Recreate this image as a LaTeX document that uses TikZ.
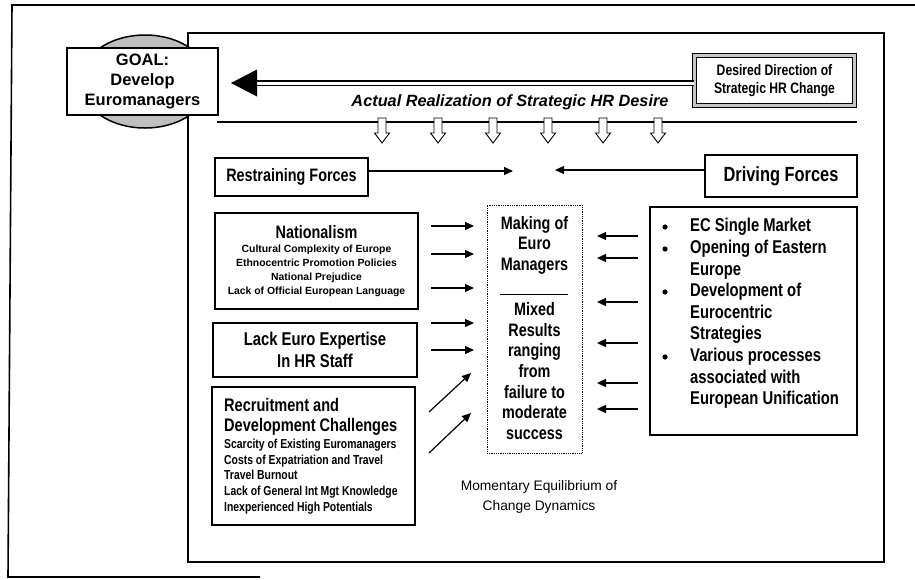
\documentclass[tikz,border=0pt]{standalone}
\usepackage{fontspec}
\setmainfont{Liberation Sans}
\newfontfamily\cond[FakeStretch=0.8]{Liberation Sans}
\usetikzlibrary{arrows.meta,shapes.geometric}
\newcommand\fsz[2]{\fontsize{#1}{#2}\selectfont}
\begin{document}
\begin{tikzpicture}[x=1pt,y=-1pt,
  box/.style={draw,line width=1.4pt,fill=white,inner sep=0pt},
  arr/.style={-{Triangle[length=9pt,width=8pt]},line width=1.2pt},
  hollow/.style={draw,line width=0.9pt,fill=white},
  frame/.style={draw,line width=1.6pt},
  ttl/.style={font=\cond\bfseries\fsz{18}{21},align=center,inner sep=0pt},
  small/.style={font=\bfseries\fsz{10.4}{14},align=center,inner sep=0pt},
]
\useasboundingbox (0,0) rectangle (915,579);
% frames
\draw[frame] (260,577) -- (8,577) -- (12,5) -- (915,5);
\draw[frame] (188,33) rectangle (884,562);
% goal
\node[ellipse,draw,line width=1.5pt,fill=gray!50,minimum width=130pt,minimum height=93pt,inner sep=0pt] (globe) at (145,81.5) {};
\node[box,line width=2pt,minimum width=151pt,minimum height=67pt,font=\bfseries\fsz{16.5}{20},align=center] (goal) at (142.5,81.5) {GOAL:\\Develop\\Euromanagers};
% desired
\node[draw,line width=1.3pt,double=gray!45,double distance=2.2pt,fill=white,minimum width=160pt,minimum height=50pt,inner sep=0pt,font=\cond\bfseries\fsz{15.2}{17.5},align=center] (desired) at (774.5,80.5) {Desired Direction of\\Strategic HR Change};
\coordinate (tip) at (231,83);
\coordinate (hb) at (256,83);
\draw[line width=1.5pt,double=white,double distance=3pt] (hb) -- (hb -| desired.west);
\fill (tip) -- ++(26,-13.5) -- ++(0,27) -- cycle;
% actual
\node[font=\bfseries\itshape\fsz{16.3}{18},inner sep=0pt] (actual) at (510,102) {Actual Realization of Strategic HR Desire};
\draw[line width=1.6pt] (217,122) -- (857,122);
\foreach \x in {382,438,493,548,603,658}
  \draw[hollow] ({\x-4},118) -- ({\x+4},118) -- ({\x+4},133) -- ({\x+7.5},133) -- (\x,143) -- ({\x-7.5},133) -- ({\x-4},133) -- cycle;
% force headers
\node[box,minimum width=153pt,minimum height=38pt,font=\cond\bfseries\fsz{18}{20}] (restr) at (291.5,177) {Restraining Forces};
\node[box,minimum width=152pt,minimum height=42pt,font=\cond\bfseries\fsz{20.5}{22}] (driving) at (781,176) {Driving Forces};
\coordinate (m1) at (513,171);
\coordinate (m2) at (555,170);
\draw[arr] (restr.east |- m1) -- (m1);
\draw[arr] (driving.west |- m2) -- (m2);
% nationalism
\node[box,minimum width=203pt,minimum height=96pt] (nat) at (316.5,261) {};
\node[ttl] (natt) at (316.5,232) {Nationalism};
\node[small] (natl) at (316.5,271) {Cultural Complexity of Europe\\Ethnocentric Promotion Policies\\National Prejudice\\Lack of Official European Language};
% lack
\node[box,minimum width=204pt,minimum height=54pt,font=\cond\bfseries\fsz{18.5}{22},align=center] (lack) at (315,350) {Lack Euro Expertise\\In HR Staff};
% recruitment
\node[box,minimum width=203pt,minimum height=138pt] (rec) at (313.5,456) {};
\node[ttl,align=left,anchor=west,font=\cond\bfseries\fsz{18.2}{20}] (rect) at (224,417) {Recruitment and\\Development Challenges};
\node[small,align=left,anchor=west,font=\cond\bfseries\fsz{13}{15.7}] (recl) at (224,476.5) {Scarcity of Existing Euromanagers\\Costs of Expatriation and Travel\\Travel Burnout\\Lack of General Int Mgt Knowledge\\Inexperienced High Potentials};
% center
\node[draw,line width=0.8pt,densely dotted,minimum width=95pt,minimum height=248pt,inner sep=0pt] (center) at (534.5,329) {};
\node[ttl,font=\cond\bfseries\fsz{18}{20.5}] (making) at (534.5,245) {Making of\\Euro\\Managers};
\draw[line width=1pt] (500,294) -- (568,294);
\node[ttl,font=\cond\bfseries\fsz{18}{20.7}] (mixed) at (534.5,371) {Mixed\\Results\\ranging\\from\\failure to\\moderate\\success};
% driving list
\node[box,minimum width=207pt,minimum height=228pt] (dlist) at (753.5,321) {};
\node[align=left,anchor=west,inner sep=0pt,font=\cond\bfseries\fsz{18.5}{21.6}] (dtext) at (690,313.5) {EC Single Market\\Opening of Eastern\\Europe\\Development of\\Eurocentric\\Strategies\\Various processes\\associated with\\European Unification};
\foreach \y in {227,249,292,357} \fill (665,\y) circle (2.6pt);
% momentary
\node[align=center,inner sep=0pt,font=\fsz{13.8}{20}] (mom) at (539,497) {Momentary Equilibrium of\\Change Dynamics};
% arrows
\foreach \y [count=\i] in {226,254,288,323,350} {
  \coordinate (ls\i) at (431,\y); \coordinate (le\i) at (474,\y);
  \draw[arr] (ls\i) -- (le\i);
}
\coordinate (ds1) at (429,412); \coordinate (de1) at (471,373);
\coordinate (ds2) at (429,453); \coordinate (de2) at (471,413);
\draw[arr] (ds1) -- (de1);
\draw[arr] (ds2) -- (de2);
\foreach \y [count=\i] in {236,258,302,343,383,409} {
  \coordinate (rs\i) at (638,\y); \coordinate (re\i) at (597,\y);
  \draw[arr] (rs\i) -- (re\i);
}
\end{tikzpicture}
\end{document}
